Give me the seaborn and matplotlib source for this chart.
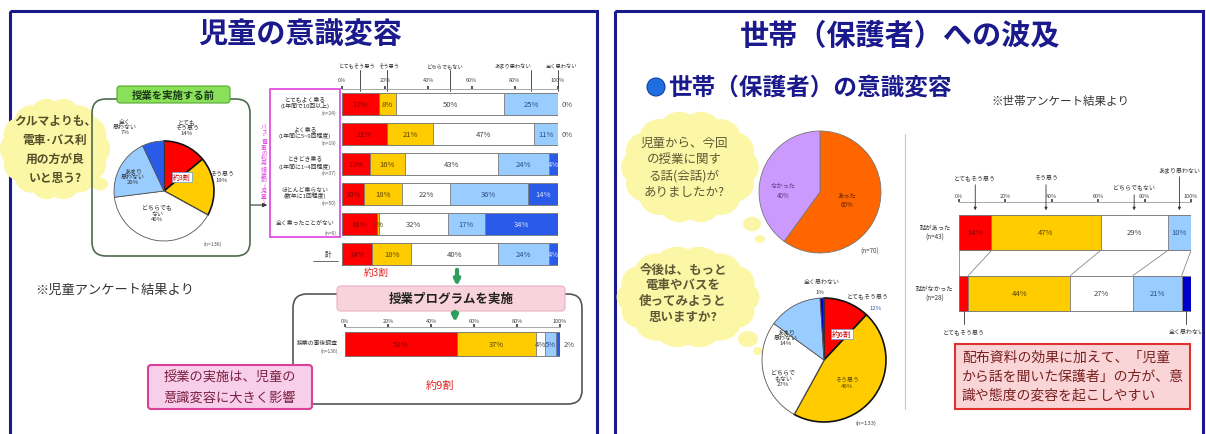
import numpy as np
import pandas as pd
import matplotlib.pyplot as plt
import seaborn as sns
from matplotlib.patches import FancyBboxPatch, Rectangle, Ellipse, Circle

W, H = 1206, 435

# ---------------- data ----------------
answers = ["とてもそう思う", "そう思う", "どちらでもない", "あまり思わない", "全く思わない"]
bar_colors = ["#FF0000", "#FFCC00", "#FFFFFF", "#99CCFF", "#2A5BE8"]
txt_colors = ["#8B0000", "#5a4300", "#444444", "#2d4f8a", "#d8e0ff"]

# 授業前 (児童) pie
before_pie = [14, 19, 40, 20, 7]

# 利用頻度別 (児童)
freq_rows = ["とてもよく乗る\n(1年間で10回以上)", "よく乗る\n(1年間に5~9回程度)",
             "ときどき乗る\n(1年間に1~4回程度)", "ほとんど乗らない\n(数年に1回程度)",
             "全く乗ったことがない", "計"]
freq_n = ["(n=24)", "(n=19)", "(n=37)", "(n=50)", "(n=6)", ""]
freq_vals = [[17, 8, 50, 25, 0],
             [21, 21, 47, 11, 0],
             [13, 16, 43, 24, 4],
             [10, 18, 22, 36, 14],
             [16, 1, 32, 17, 34],
             [14, 18, 40, 24, 4]]

# 授業後 (児童)
after_rows = ["授業の事後調査"]
after_vals = [[52, 37, 4, 5, 2]]

# 世帯: 会話の有無 pie
talk_labels = ["あった", "なかった"]
talk_pie = [60, 40]
talk_colors = ["#FF6600", "#CC99FF"]

# 世帯: 今後の利用意向 pie
future_pie = [12, 46, 27, 14, 1]

# 世帯: 会話の有無別
talk_rows = ["話があった\n(n=43)", "話がなかった\n(n=28)"]
talk_vals = [[14, 47, 29, 10, 0],
             [4, 44, 27, 21, 4]]

NAVY = "#1a1a8c"

sns.set_theme(style="white")
plt.rcParams['font.family'] = ['Noto Sans CJK JP', 'DejaVu Sans']

fig = plt.figure(figsize=(W / 100, H / 100), dpi=100)
fig.patch.set_facecolor("white")


def px_axes(x0, y0, x1, y1, z=2):
    ax = fig.add_axes([x0 / W, 1 - y1 / H, (x1 - x0) / W, (y1 - y0) / H], zorder=z)
    ax.patch.set_alpha(0)
    return ax


def canvas(z):
    ax = px_axes(0, 0, W, H, z)
    ax.set_xlim(0, W)
    ax.set_ylim(H, 0)
    ax.axis('off')
    return ax


bg = canvas(0)


def cloud(ax, cx, cy, w, h, tail):
    c = "#FBF7A6"
    ax.add_patch(Ellipse((cx, cy), w * 0.8, h * 0.78, fc=c, ec='none'))
    for a in np.linspace(0, 2 * np.pi, 14, endpoint=False):
        ax.add_patch(Ellipse((cx + 0.36 * w * np.cos(a), cy + 0.34 * h * np.sin(a)),
                             w * 0.3, h * 0.34, fc=c, ec='none'))
    for (x, y, r) in tail:
        ax.add_patch(Ellipse((x, y), r * 2, r * 1.6, fc=c, ec='none'))


def stacked(ax, rows, vals, width, cols):
    df = pd.DataFrame(vals, columns=answers)
    cum = df.cumsum(axis=1)
    for k in range(len(answers) - 1, -1, -1):
        sns.barplot(x=cum[answers[k]].values, y=rows, orient='h', color=cols[k],
                    width=width, edgecolor='#7a7a7a', linewidth=0.6, saturation=1, ax=ax)
    n = len(rows)
    ax.set_xlim(0, 100)
    ax.set_ylim(n - 0.5, -0.5)
    ax.set_xlabel('')
    ax.set_ylabel('')
    ax.set_yticks([])
    ax.set_xticks(range(0, 101, 20))
    ax.set_xticklabels([f"{t}%" for t in range(0, 101, 20)])
    ax.tick_params(axis='x', top=True, bottom=False, labeltop=True, labelbottom=False,
                   labelsize=4, length=2, pad=1, colors='#444444')
    for s in ['bottom', 'left', 'right']:
        ax.spines[s].set_visible(False)
    ax.spines['top'].set_color('#999999')
    ax.spines['top'].set_linewidth(0.6)


def seg_text(ax, vals, fs, min_in=1, outside=True):
    for i, row in enumerate(vals):
        left = 0
        for k, v in enumerate(row):
            if k == len(row) - 1 and v < 3:
                if outside:
                    ax.text(101.5, i, f"{v}%", ha='left', va='center', fontsize=fs,
                            color='#555555', clip_on=False)
            elif v >= min_in:
                ax.text(left + v / 2, i, f"{v}%", ha='center', va='center',
                        fontsize=fs, color=txt_colors[k])
            left += v


# ================= left panel =================
bg.add_patch(Rectangle((10, 12), 587, 440, fill=False, ec=NAVY, lw=2.2))
bg.text(300, 34, "児童の意識変容", ha='center', va='center', fontsize=21,
        fontweight='bold', color=NAVY)

# cloud question
cloud(bg, 55, 150, 108, 100, [(100, 185, 8)])
for j, line in enumerate(["クルマよりも、", "電車･バス利", "用の方が良", "いと思う?"]):
    bg.text(55, 121 + j * 19, line, ha='center', va='center', fontsize=8.5,
            fontweight='bold', color='#55502a')

# before box
bg.add_patch(FancyBboxPatch((92, 100), 158, 157, boxstyle='round,pad=0,rounding_size=14',
                            fc='none', ec='#4d6b4d', lw=1.2))
bg.add_patch(FancyBboxPatch((117, 87), 113, 17, boxstyle='round,pad=0,rounding_size=3',
                            fc='#8BE05A', ec='#55AA33', lw=0.8))
bg.text(173, 95.5, "授業を実施する前", ha='center', va='center', fontsize=7.5,
        fontweight='bold', color='#1a3a1a')
bg.annotate('', xy=(270, 206), xytext=(248, 206),
            arrowprops=dict(arrowstyle='-|>', color='#333333', lw=0.8, mutation_scale=6))

r = 50
pax = px_axes(164 - r - 2, 192 - r - 2, 164 + r + 2, 192 + r + 2, 3)
w_, _ = pax.pie(before_pie, colors=bar_colors, startangle=90, counterclock=False,
                wedgeprops=dict(edgecolor='#555555', linewidth=0.6))
for wd in w_[:2]:
    wd.set_edgecolor('#111111')
    wd.set_linewidth(1.2)
pax.set_xlim(-(r + 2) / r, (r + 2) / r)
pax.set_ylim(-(r + 2) / r, (r + 2) / r)

bg.text(115, 290, "※児童アンケート結果より", ha='center', va='center', fontsize=9.5,
        color='#333333')

# usage-frequency chart
bg.add_patch(Rectangle((270, 90), 70, 148, fill=False, ec='#E040E0', lw=1.2))
bg.text(264, 165, "\n".join("バス・電車の利用頻度別(児童)"), ha='center', va='center',
        fontsize=4.2, color='#E040E0', linespacing=1.05)
for i in range(5):
    bg.text(305, 103 + i * 30, freq_rows[i], ha='center', va='center', fontsize=4.2,
            color='#333333', linespacing=1.2)
    bg.text(336, 113 + i * 30, freq_n[i], ha='right', va='center', fontsize=3.5,
            color='#555555')
bg.text(332, 255, freq_rows[5], ha='right', va='center', fontsize=5, color='#333333')
bg.plot([313, 338], [262, 262], color='#555555', lw=0.6)

bax = px_axes(342, 90, 558, 270)
stacked(bax, freq_rows, freq_vals, 0.73, bar_colors)
bax.tick_params(axis='x', pad=3)
seg_text(bax, freq_vals, 5.5, min_in=1, outside=True)

# category labels above the chart (lines at row-1 segment centres)
cum = np.cumsum(freq_vals[0])
mids = cum - np.array(freq_vals[0]) / 2
label_shift = [-3, 2, -6, -18, 4]
for k, m in enumerate(mids):
    xp = 342 + m / 100 * 216
    bg.text(xp + label_shift[k], 67, answers[k], ha='center', va='center', fontsize=3.8,
            color='#333333')
    bg.plot([xp, xp], [71, 92], color='#333333', lw=0.6)

bg.text(376, 273, "約3割", ha='center', va='center', fontsize=7, color='#E02020')

fg = canvas(10)
fg.annotate('', xy=(457, 290), xytext=(457, 268),
            arrowprops=dict(arrowstyle='-|>', color='#2E9E5E', lw=3, mutation_scale=8))

# after box
bg.add_patch(FancyBboxPatch((293, 295), 289, 110, boxstyle='round,pad=0,rounding_size=14',
                            fc='white', ec='#555555', lw=1.2))
fg.add_patch(FancyBboxPatch((337, 287), 228, 25, boxstyle='round,pad=0,rounding_size=4',
                            fc='#F9D3DC', ec='#eab0c0', lw=0.8))
fg.text(451, 299.5, "授業プログラムを実施", ha='center', va='center', fontsize=9,
        fontweight='bold', color='#222222')
fg.annotate('', xy=(455, 326), xytext=(455, 310),
            arrowprops=dict(arrowstyle='-|>', color='#2E9E5E', lw=3, mutation_scale=8))

aax = px_axes(345, 328, 560, 362, 3)
stacked(aax, after_rows, after_vals, 0.73, bar_colors)
seg_text(aax, after_vals, 5.5, min_in=1, outside=True)
bg.text(338, 343, after_rows[0], ha='right', va='center', fontsize=4.2, color='#333333')
bg.text(338, 351, "(n=136)", ha='right', va='center', fontsize=3.5, color='#555555')
bg.text(440, 386, "約9割", ha='center', va='center', fontsize=8, color='#E02020')

fg.add_patch(FancyBboxPatch((148, 366), 164, 44, boxstyle='round,pad=0,rounding_size=3',
                            fc='#F8CFEA', ec='#D8409A', lw=1.5))
fg.text(230, 378, "授業の実施は、児童の", ha='center', va='center', fontsize=9.5,
        color='#7A2040')
fg.text(230, 398, "意識変容に大きく影響", ha='center', va='center', fontsize=9.5,
        color='#7A2040')

# left pie labels
fg.text(187, 128, "とても\nそう思う\n14%", ha='center', va='center', fontsize=4.3,
        color='#333333', linespacing=1.1)
fg.text(222, 177, "そう思う\n19%", ha='center', va='center', fontsize=4.3, color='#333333')
fg.text(157, 214, "どちらでも\nない\n40%", ha='center', va='center', fontsize=4.3,
        color='#333333', linespacing=1.1)
fg.text(133, 177, "あまり\n思わない\n20%", ha='center', va='center', fontsize=4.3,
        color='#333333', linespacing=1.1)
fg.text(125, 127, "全く\n思わない\n7%", ha='center', va='center', fontsize=4.3,
        color='#333333', linespacing=1.1)
fg.text(182, 178, "約3割", ha='center', va='center', fontsize=5, color='#CC0000',
        bbox=dict(fc='white', ec='#6699cc', lw=0.5, pad=0.8))
fg.text(213, 244, "(n=136)", ha='center', va='center', fontsize=3.8, color='#555555')

# ================= right panel =================
bg.add_patch(Rectangle((615, 12), 588, 440, fill=False, ec=NAVY, lw=2.2))
bg.text(900, 36, "世帯（保護者）への波及", ha='center', va='center', fontsize=21,
        fontweight='bold', color=NAVY)
bg.add_patch(Circle((656, 88), 9, fc='#1f6fe0', ec='#1040a0', lw=0.8))
bg.text(668, 88, "世帯（保護者）の意識変容", ha='left', va='center', fontsize=17,
        fontweight='bold', color=NAVY)
bg.text(1060, 101, "※世帯アンケート結果より", ha='center', va='center', fontsize=8.3,
        color='#333333')

cloud(bg, 690, 168, 135, 110, [(752, 225, 9), (760, 240, 5)])
for j, line in enumerate(["児童から、今回", "の授業に関す", "る話(会話)が", "ありましたか?"]):
    bg.text(684, 143 + j * 16.5, line, ha='center', va='center', fontsize=9,
            color='#5e5836')
cloud(bg, 688, 298, 140, 100, [(748, 340, 10), (758, 352, 5)])
for j, line in enumerate(["今後は、もっと", "電車やバスを", "使ってみようと", "思いますか?"]):
    bg.text(683, 270 + j * 16, line, ha='center', va='center', fontsize=9,
            color='#5e5836', fontweight='bold')

r1 = 61
p1 = px_axes(820 - r1 - 2, 193 - r1 - 2, 820 + r1 + 2, 193 + r1 + 2, 3)
p1.pie(talk_pie, colors=talk_colors, startangle=90, counterclock=False,
       wedgeprops=dict(edgecolor='#777777', linewidth=0.6))
p1.set_xlim(-(r1 + 2) / r1, (r1 + 2) / r1)
p1.set_ylim(-(r1 + 2) / r1, (r1 + 2) / r1)
fg.text(847, 200, f"{talk_labels[0]}\n{talk_pie[0]}%", ha='center', va='center',
        fontsize=4.5, color='#5a2000')
fg.text(783, 191, f"{talk_labels[1]}\n{talk_pie[1]}%", ha='center', va='center',
        fontsize=4.5, color='#5a3a7a')
fg.text(870, 252, "(n=70)", ha='center', va='center', fontsize=4.5, color='#444444')

r2 = 62
p2 = px_axes(824 - r2 - 2, 361 - r2 - 2, 824 + r2 + 2, 361 + r2 + 2, 3)
w2, _ = p2.pie(future_pie, colors=bar_colors[:4] + ['#0000CC'], startangle=90,
               counterclock=False, wedgeprops=dict(edgecolor='#555555', linewidth=0.6))
for wd in w2[:2]:
    wd.set_edgecolor('#111111')
    wd.set_linewidth(1.2)
p2.set_xlim(-(r2 + 2) / r2, (r2 + 2) / r2)
p2.set_ylim(-(r2 + 2) / r2, (r2 + 2) / r2)
fg.text(822, 282, "全く思わない", ha='center', va='center', fontsize=4.3, color='#333333')
fg.text(820, 293, "1%", ha='center', va='center', fontsize=4.3, color='#333333')
fg.text(868, 296, "とてもそう思う", ha='center', va='center', fontsize=4.3, color='#333333')
fg.text(876, 309, "12%", ha='center', va='center', fontsize=4.3, color='#3355aa')
fg.text(786, 338, "あまり\n思わない\n14%", ha='center', va='center', fontsize=4.3,
        color='#333333', linespacing=1.1)
fg.text(783, 378, "どちらで\nもない\n27%", ha='center', va='center', fontsize=4.3,
        color='#333333', linespacing=1.1)
fg.text(847, 383, "そう思う\n46%", ha='center', va='center', fontsize=4.3,
        color='#5a4300')
fg.text(842, 335, "約6割", ha='center', va='center', fontsize=5.5, color='#CC0000',
        bbox=dict(fc='white', ec='#6699cc', lw=0.5, pad=0.8))
fg.text(866, 423, "(n=133)", ha='center', va='center', fontsize=4.3, color='#444444')

bg.plot([905, 905], [135, 410], color='#c8c8c8', lw=0.8)

# talk / no-talk chart
tax = px_axes(959, 203, 1191, 325, 3)
tcols = bar_colors[:4] + ['#0000CC']
stacked(tax, talk_rows, talk_vals, 0.59, tcols)
seg_text(tax, talk_vals, 5.5, min_in=5, outside=False)
tc1 = np.cumsum(talk_vals[0])
tc2 = np.cumsum(talk_vals[1])
for k in range(4):
    tax.plot([tc1[k], tc2[k]], [0 + 0.295, 1 - 0.295], color='#888888', lw=0.6)
tax.plot([0, 0], [0.295, 0.705], color='#888888', lw=0.6)
for i, lab in enumerate(talk_rows):
    bg.text(935, 233 + i * 61, lab, ha='center', va='center', fontsize=4.5,
            color='#333333', linespacing=1.3)

m1 = tc1 - np.array(talk_vals[0]) / 2
m2 = tc2 - np.array(talk_vals[1]) / 2
top_y = [178, 178, 188, 170]
for k in range(4):
    xp = 959 + m1[k] / 100 * 232
    fg.text(xp, top_y[k], answers[k], ha='center', va='center', fontsize=4.3,
            color='#333333')
    fg.annotate('', xy=(xp, 214), xytext=(xp, top_y[k] + 5),
                arrowprops=dict(arrowstyle='-|>', color='#333333', lw=0.6,
                                mutation_scale=4))
for k, ty in [(0, 330), (4, 330)]:
    xp = 959 + m2[k] / 100 * 232
    fg.plot([xp, xp], [312, 325], color='#333333', lw=0.6)
    fg.text(xp, ty + 2, answers[k], ha='center', va='center', fontsize=4.3,
            color='#333333')

fg.add_patch(Rectangle((955, 345), 235, 65, fc='#F9D5D8', ec='#E03030', lw=1.5))
for j, line in enumerate(["配布資料の効果に加えて、「児童",
                          "から話を聞いた保護者」の方が、意",
                          "識や態度の変容を起こしやすい"]):
    fg.text(962, 358 + j * 19, line, ha='left', va='center', fontsize=10,
            color='#7a1f1f')

fig.savefig("out.png", dpi=100, facecolor='white')
